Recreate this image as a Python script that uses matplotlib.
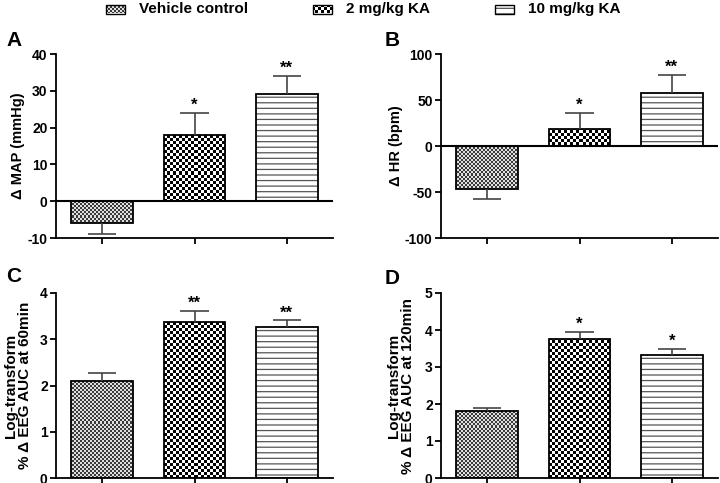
import numpy as np
import matplotlib
matplotlib.use('Agg')
import matplotlib.pyplot as plt
from matplotlib.colors import ListedColormap
from matplotlib.patches import Rectangle

plt.rcParams['font.family'] = ['Liberation Sans', 'DejaVu Sans']
plt.rcParams['font.weight'] = 'bold'
plt.rcParams['hatch.linewidth'] = 0.9
plt.rcParams['axes.unicode_minus'] = False

# Data
groups = ['Vehicle control', '2 mg/kg KA', '10 mg/kg KA']

map_mean = [-6, 18, 29]
map_sem = [3, 6, 5]
map_stars = ['', '*', '**']

hr_mean = [-47, 18, 58]
hr_sem = [11, 18, 19]
hr_stars = ['', '*', '**']

eeg60_mean = [2.1, 3.37, 3.27]
eeg60_sem = [0.17, 0.25, 0.14]
eeg60_stars = ['', '**', '**']

eeg120_mean = [1.82, 3.75, 3.32]
eeg120_sem = [0.08, 0.2, 0.18]
eeg120_stars = ['', '*', '*']

DPI = 100
fig = plt.figure(figsize=(7.2, 4.83), dpi=DPI)
W, H = 720, 483


def checker_fill(ax, patch, cell, dark, light):
    # pixel-sized checkerboard clipped to a patch
    bb = ax.get_position()
    w = int(round(bb.width * W))
    h = int(round(bb.height * H))
    ii, jj = np.mgrid[0:h, 0:w]
    board = (ii // cell + jj // cell) % 2
    x0, x1 = ax.get_xlim()
    y0, y1 = ax.get_ylim()
    im = ax.imshow(board, cmap=ListedColormap([dark, light]), extent=(x0, x1, y0, y1),
                   origin='lower', aspect='auto', interpolation='nearest', zorder=2)
    im.set_clip_path(patch)
    ax.set_xlim(x0, x1)
    ax.set_ylim(y0, y1)


def style_fill(ax, patch, i):
    if i == 0:
        checker_fill(ax, patch, 2, '#3a3a3a', '#e0e0e0')
    elif i == 1:
        checker_fill(ax, patch, 3, 'black', 'white')
    else:
        patch.set_hatch('---')
        patch.set_edgecolor('#555555')


def panel(rect, mean, sem, stars, ylim, yticks, ylabel, label_x, label_size, zero_line=False):
    ax = fig.add_axes(rect)
    x = np.arange(len(mean))
    ax.set_xlim(-0.5, 2.5)
    ax.set_ylim(*ylim)
    fills = ax.bar(x, mean, width=0.67, facecolor='white', edgecolor='white', linewidth=0, zorder=1)
    for i, p in enumerate(fills.patches):
        style_fill(ax, p, i)
    ax.bar(x, mean, width=0.67, facecolor='none', edgecolor='black', linewidth=1.3, zorder=3)
    for xi, m, e, s in zip(x, mean, sem, stars):
        end = m + e if m >= 0 else m - e
        ax.vlines(xi, m, end, color='#444444', lw=1.2, zorder=4)
        ax.hlines(end, xi - 0.155, xi + 0.155, color='#444444', lw=1.2, zorder=4)
        if s:
            ax.annotate(s, (xi, end), xytext=(0, 0), textcoords='offset points',
                        ha='center', va='bottom', fontsize=12, fontweight='bold')
    if zero_line:
        ax.axhline(0, color='black', lw=1.5, zorder=5)
    ax.set_yticks(yticks)
    ax.set_xticks(x)
    ax.set_xticklabels([])
    ax.tick_params(axis='x', length=4, width=1.3)
    ax.tick_params(axis='y', length=4, width=1.3, labelsize=10, pad=2)
    for s in ['top', 'right']:
        ax.spines[s].set_visible(False)
    for s in ['left', 'bottom']:
        ax.spines[s].set_linewidth(1.3)
    ax.set_ylabel(ylabel, fontsize=label_size, fontweight='bold', linespacing=1.0)
    ax.yaxis.set_label_coords(label_x, 0.5)
    return ax


axw = 277 / W
panel([56 / W, 1 - 238 / H, axw, 184 / H], map_mean, map_sem, map_stars,
      (-10, 40), range(-10, 41, 10), 'Δ MAP (mmHg)', -0.112, 10.5, zero_line=True)
panel([441 / W, 1 - 238 / H, axw, 184 / H], hr_mean, hr_sem, hr_stars,
      (-100, 100), range(-100, 101, 50), 'Δ HR (bpm)', -0.137, 10.5, zero_line=True)
panel([56 / W, 1 - 478 / H, axw, 185 / H], eeg60_mean, eeg60_sem, eeg60_stars,
      (0, 4), range(0, 5), 'Log-transform\n% Δ EEG AUC at 60min', -0.087, 11)
panel([441 / W, 1 - 478 / H, axw, 185 / H], eeg120_mean, eeg120_sem, eeg120_stars,
      (0, 5), range(0, 6), 'Log-transform\n% Δ EEG AUC at 120min', -0.094, 11)

for letter, px, py in [('A', 6, 31), ('B', 385, 31), ('C', 6, 267), ('D', 385, 269)]:
    fig.text(px / W, 1 - py / H, letter, fontsize=15, fontweight='bold', va='top', ha='left')

# legend drawn in pixel coordinates
lax = fig.add_axes([0, 1 - 22 / H, 1, 22 / H])
lax.set_xlim(0, W)
lax.set_ylim(22, 0)
lax.axis('off')
leg_x = [106, 313, 495]
for i, (lx, name) in enumerate(zip(leg_x, groups)):
    fill = Rectangle((lx, 4.5), 19, 9, facecolor='white', edgecolor='white', linewidth=0, zorder=1)
    lax.add_patch(fill)
    style_fill(lax, fill, i)
    lax.add_patch(Rectangle((lx, 4.5), 19, 9, facecolor='none', edgecolor='black', linewidth=1.0, zorder=3))
    lax.text(lx + 33, 9, name, fontsize=11, fontweight='bold', va='center', ha='left')
lax.set_xlim(0, W)
lax.set_ylim(22, 0)

fig.savefig('out.png', dpi=DPI)
